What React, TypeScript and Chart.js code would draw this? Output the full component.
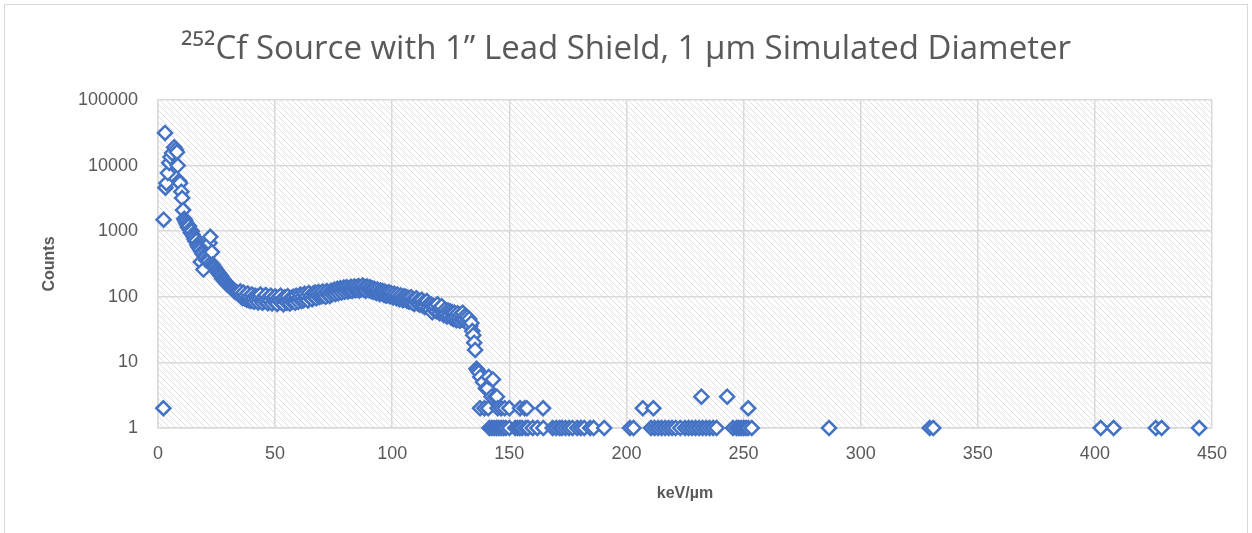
import React, { useEffect, useRef } from 'react';
import { Chart, registerables } from 'chart.js';
Chart.register(...registerables);

// ---- data (keV/µm, counts) ----
const peakRegion: [number, number][] = [
  [2.3, 2], [2.4, 1500], [3.0, 31500], [3.2, 4600], [3.6, 5400], [4.2, 7700], [4.8, 11000],
  [5.3, 13500], [6.0, 15500], [6.9, 19000], [7.6, 17500], [8.1, 16000], [8.4, 10000], [9.0, 5800],
  [9.4, 5400], [10.0, 4000], [10.3, 3200], [10.7, 2100], [11.2, 1550], [11.6, 1450],
  [12.0, 1350], [12.4, 1250], [12.8, 1150], [13.2, 1200], [13.6, 1050], [14.0, 950], [14.4, 1000],
  [14.8, 880], [15.2, 820], [15.6, 760], [16.0, 700], [16.4, 720], [16.8, 620], [17.2, 580],
  [17.6, 560], [18.0, 520], [18.3, 340], [18.7, 480], [19.1, 450], [19.4, 260], [19.8, 420],
  [20.2, 400], [20.6, 360], [21.0, 370], [21.5, 350], [22.0, 660], [22.3, 820], [22.6, 330],
  [23.0, 480], [23.3, 310], [23.8, 290], [24.2, 280], [24.7, 260], [25.2, 250], [25.6, 235],
  [26.1, 225], [26.5, 215], [27.0, 205], [27.4, 190], [27.9, 185], [28.3, 175], [28.8, 170],
  [29.2, 160], [29.7, 155], [30.1, 150], [30.6, 145], [31.0, 140], [31.5, 135], [32.0, 130],
  [32.4, 125], [32.9, 120], [33.3, 118], [33.8, 115], [34.2, 112], [34.7, 108], [35.1, 120],
];

const plateauRegion: [number, number][] = [
  [35.6, 105], [36.0, 96], [36.5, 116], [37.0, 94], [37.4, 106], [37.9, 90], [38.3, 112],
  [38.8, 89], [39.2, 102], [39.7, 86], [40.1, 108], [40.6, 93], [41.0, 84], [41.5, 104], [41.9, 90],
  [42.4, 100], [42.8, 82], [43.3, 96], [43.7, 108], [44.2, 88], [44.6, 81], [45.1, 99], [45.5, 86],
  [46.0, 106], [46.4, 91], [46.9, 80], [47.3, 98], [47.8, 87], [48.2, 104], [48.7, 79], [49.1, 95],
  [49.6, 85], [50.0, 101], [50.5, 89], [50.9, 78], [51.4, 97], [51.8, 86], [52.3, 104], [52.7, 82],
  [53.2, 93], [53.6, 77], [54.1, 98], [54.5, 87], [55.0, 81], [55.4, 102], [55.9, 89], [56.3, 79],
  [56.8, 96], [57.2, 84], [57.7, 100], [58.1, 88], [58.6, 81], [59.0, 104], [59.5, 91], [59.9, 84],
  [60.4, 98], [60.8, 108], [61.3, 86], [61.7, 101], [62.2, 89], [62.6, 111], [63.1, 94], [63.5, 102],
  [64.0, 88], [64.4, 114], [64.9, 97], [65.3, 105], [65.8, 92], [66.2, 112], [66.7, 99], [67.1, 116],
  [67.6, 95], [68.0, 106], [68.5, 118], [68.9, 99], [69.4, 111], [69.8, 102], [70.3, 120],
  [70.7, 105], [71.2, 113], [71.6, 100], [72.1, 122], [72.5, 107], [73.0, 115], [73.4, 103],
  [73.9, 124], [74.3, 109], [74.8, 118], [75.2, 128], [75.7, 110], [76.1, 121], [76.6, 132],
  [77.0, 113], [77.5, 124], [77.9, 135], [78.4, 116], [78.8, 128], [79.3, 138], [79.7, 119],
  [80.2, 131], [80.6, 140], [81.1, 121], [81.5, 134], [82.0, 125], [82.4, 142], [82.9, 123],
  [83.3, 135], [83.8, 144], [84.2, 126], [84.7, 138], [85.1, 128], [85.6, 146], [86.0, 125],
  [86.5, 139], [86.9, 130], [87.4, 148], [87.8, 128], [88.3, 141], [88.7, 124], [89.2, 144],
  [89.6, 132], [90.1, 126], [90.5, 140], [91.0, 123], [91.4, 135], [91.9, 119], [92.3, 132],
  [92.8, 122], [93.2, 114], [93.7, 129], [94.1, 117], [94.6, 110], [95.0, 125], [95.5, 113],
  [95.9, 122], [96.4, 108], [96.8, 119], [97.3, 104], [97.7, 115], [98.2, 106], [98.6, 117],
  [99.1, 102], [99.5, 113], [100.0, 104], [100.4, 98], [100.9, 111], [101.3, 101], [101.8, 95],
  [102.2, 108], [102.7, 98], [103.1, 92], [103.6, 105], [104.0, 95], [104.5, 89], [104.9, 102],
  [105.4, 92], [105.8, 100], [106.3, 87], [106.7, 97], [107.2, 84], [107.6, 94], [108.1, 98],
  [108.5, 82], [109.0, 92], [109.4, 78], [109.9, 90], [110.3, 95], [110.8, 80], [111.2, 88],
  [111.7, 76], [112.1, 86], [112.6, 90], [113.0, 74], [113.5, 83], [113.9, 70], [114.4, 81],
  [114.8, 86], [115.3, 68], [115.7, 78], [116.2, 64], [116.6, 76], [117.1, 58], [117.5, 73],
  [118.0, 63], [118.4, 71], [118.9, 60], [119.3, 77], [119.8, 65], [120.2, 56], [120.7, 66],
  [121.1, 72], [121.6, 58], [122.0, 53], [122.5, 64], [122.9, 55], [123.4, 50], [123.8, 62],
  [124.3, 52], [124.7, 60], [125.2, 48], [125.6, 58], [126.1, 46], [126.5, 57], [127.0, 49],
  [127.4, 44], [127.9, 56], [128.3, 47], [128.8, 43], [129.2, 54], [129.7, 45], [130.1, 57],
  [130.6, 44], [131.0, 51], [131.5, 41], [132.0, 49], [132.4, 39], [132.9, 46], [133.3, 36],
];

const edgeRegion: [number, number][] = [
  [133.8, 40], [134.2, 30], [134.6, 26], [135.0, 20], [135.4, 15.5], [136.0, 8], [136.5, 7.5],
  [137.0, 7], [137.6, 6], [138.8, 5], [140.0, 4], [140.6, 4], [141.2, 6], [142.4, 3], [143.0, 5.5],
  [144.0, 3], [144.7, 3], [232.0, 3], [243.0, 3],
];

const countTwoKeV = [137.5, 139.4, 141.0, 145.0, 146.5, 148.0, 150.0, 154.6, 156.5, 157.5, 164.4, 207.0, 211.5, 252.0];

const countOneKeV = [
  141.5, 142.5, 143.5, 144.5, 145.5, 146.5, 147.5, 148.5, 150.0, 152.5, 153.5, 154.5, 155.5, 157.0,
  158.0, 160.0, 162.0, 164.5, 168.5, 170.0, 171.5, 172.5, 174.0, 175.5, 177.0, 179.0, 180.5, 182.0,
  184.5, 186.0, 190.5, 201.5, 203.0, 210.5, 212.0, 213.5, 215.0, 216.5, 218.0, 219.5, 221.0, 223.0,
  225.0, 226.5, 228.0, 229.5, 231.0, 232.5, 234.0, 235.5, 237.0, 238.5, 245.5, 247.0, 248.0, 249.0,
  250.0, 251.0, 252.0, 253.5, 286.5, 329.5, 331.0, 402.5, 408.0, 426.0, 428.5, 444.5,
];

const xTickValues = [0, 50, 100, 150, 200, 250, 300, 350, 400, 450];
const yTickValues = [1, 10, 100, 1000, 10000, 100000];

const TITLE = '²⁵²Cf Source with 1” Lead Shield, 1 µm Simulated Diameter';
const X_TITLE = 'keV/µm';
const Y_TITLE = 'Counts';

function makeHatch(): CanvasPattern | string {
  const c = document.createElement('canvas');
  c.width = 6;
  c.height = 6;
  const g = c.getContext('2d');
  if (!g) return '#ffffff';
  g.fillStyle = '#ffffff';
  g.fillRect(0, 0, 6, 6);
  g.strokeStyle = '#e0e0e0';
  g.lineWidth = 1;
  g.beginPath();
  g.moveTo(-1, -1); g.lineTo(7, 7);
  g.moveTo(-4, 2); g.lineTo(4, 10);
  g.moveTo(2, -4); g.lineTo(10, 4);
  g.stroke();
  const p = g.createPattern(c, 'repeat');
  return p || '#ffffff';
}

const hatchPlugin = {
  id: 'hatchBg',
  beforeDraw(chart: any) {
    const { ctx, chartArea } = chart;
    if (!chartArea) return;
    ctx.save();
    ctx.fillStyle = makeHatch();
    ctx.fillRect(chartArea.left, chartArea.top, chartArea.right - chartArea.left, chartArea.bottom - chartArea.top);
    ctx.restore();
  },
};

export default function App() {
  const ref = useRef<HTMLCanvasElement | null>(null);
  useEffect(() => {
    if (!ref.current) return;
    const toPts = (arr: [number, number][]) => arr.map(([x, y]) => ({ x, y }));
    const data = [
      ...toPts(peakRegion),
      ...toPts(plateauRegion),
      ...toPts(edgeRegion),
      ...countTwoKeV.map((x) => ({ x, y: 2 })),
      ...countOneKeV.map((x) => ({ x, y: 1 })),
    ];
    const grey = '#595959';
    const gridC = '#d9d9d9';
    const chart = new Chart(ref.current, {
      type: 'scatter',
      data: {
        datasets: [
          {
            label: 'Counts',
            data,
            pointStyle: 'rectRot',
            pointRadius: 7,
            pointHoverRadius: 7,
            pointBorderWidth: 2.5,
            borderColor: '#4472C4',
            backgroundColor: '#ffffff',
            clip: false as any,
          },
        ],
      },
      plugins: [hatchPlugin],
      options: {
        responsive: false,
        animation: false,
        events: [],
        layout: { padding: { left: 40, right: 40, top: 0, bottom: 0 } },
        plugins: {
          legend: { display: false },
          tooltip: { enabled: false },
          title: {
            display: true,
            text: TITLE,
            color: grey,
            font: { family: 'Open Sans', size: 33, weight: 'normal' as any, lineHeight: 1.2 },
            padding: { top: 30, bottom: 30.4 },
          },
        },
        scales: {
          x: {
            type: 'linear',
            min: 0,
            max: 450,
            afterBuildTicks: (s: any) => {
              s.ticks = xTickValues.map((v) => ({ value: v }));
            },
            afterFit: (s: any) => {
              s.height = 105;
            },
            grid: { color: gridC, lineWidth: 1.5, drawTicks: false },
            border: { color: gridC, width: 1.5 },
            ticks: {
              color: grey,
              padding: 15,
              font: { family: 'Liberation Sans', size: 18 },
              callback: (v: any) => String(v),
            },
            title: {
              display: true,
              text: X_TITLE,
              color: grey,
              font: { family: 'Liberation Sans', size: 16, weight: 'bold' as any, lineHeight: 1.2 },
              padding: { top: 0, bottom: 30 },
            },
          },
          y: {
            type: 'logarithmic',
            min: 1,
            max: 100000,
            afterBuildTicks: (s: any) => {
              s.ticks = yTickValues.map((v) => ({ value: v }));
            },
            afterFit: (s: any) => {
              s.width = 118;
            },
            grid: { color: gridC, lineWidth: 1.5, drawTicks: false },
            border: { color: gridC, width: 1.5 },
            ticks: {
              color: grey,
              padding: 20,
              font: { family: 'Liberation Sans', size: 18 },
              callback: (v: any) => String(v),
            },
            title: {
              display: true,
              text: Y_TITLE,
              color: grey,
              font: { family: 'Liberation Sans', size: 16, weight: 'bold' as any, lineHeight: 1.2 },
              padding: { top: 0, bottom: 0 },
            },
          },
        },
      },
    });
    return () => chart.destroy();
  }, []);

  return (
    <div style={{ position: 'absolute', left: 0, top: 0, width: 1252, height: 533, background: '#ffffff' }}>
      <canvas ref={ref} width={1252} height={533} style={{ display: 'block' }} />
      <div
        style={{
          position: 'absolute',
          left: 4,
          top: 4,
          width: 1242,
          height: 540,
          border: '1px solid #d9d9d9',
          pointerEvents: 'none',
        }}
      />
    </div>
  );
}
